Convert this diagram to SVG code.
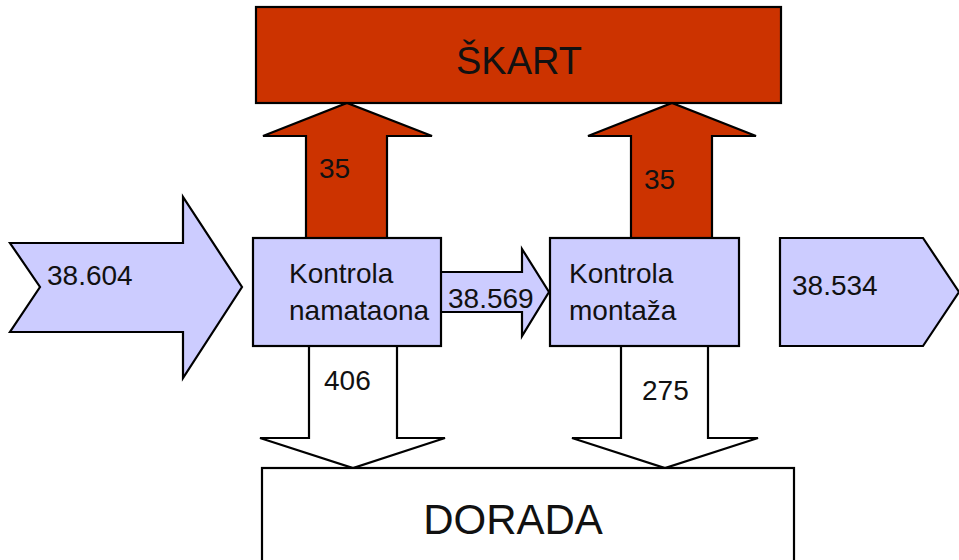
<svg xmlns="http://www.w3.org/2000/svg" width="959" height="560" viewBox="0 0 959 560">
<style>
.lav{fill:#CCCCFF;stroke:#000;stroke-width:2.2;stroke-linejoin:miter}
.red{fill:#CC3300;stroke:#000;stroke-width:2.2;stroke-linejoin:miter}
.wht{fill:#FFFFFF;stroke:#000;stroke-width:2.2;stroke-linejoin:miter}
text{font-family:"Liberation Sans",Arial,sans-serif;fill:#111;font-size:28px}
.big{font-size:40px;text-anchor:middle}
</style>
<g id="connectors">
<path id="in" class="lav" d="M10,243 H183 V197 L242,287 L183,378 V332 H10 L40,287 Z"/>
<path id="up1" class="red" d="M306,238 V136 H263 L347,103 L432,136 H387 V238"/>
<path id="up2" class="red" d="M631,238 V136 H588 L672,103 L756,136 H712 V238"/>
<path id="down1" class="wht" d="M309,347 V438 H260 L353,468 L445,438 H397 V347"/>
<path id="down2" class="wht" d="M621,347 V438 H572 L665,468 L758,438 H708 V347"/>
<path id="mid" class="lav" d="M441,272 H522 V249 L549,292 L522,336 V312 H441"/>
<path id="out" class="lav" d="M780,238 H923 L959,292 L923,346 H780 Z"/>
<text x="47" y="285">38.604</text>
<text x="319" y="178">35</text>
<text x="644" y="189">35</text>
<text x="324" y="390">406</text>
<text x="642" y="400">275</text>
<text x="448" y="308">38.569</text>
<text x="792" y="295">38.534</text>
</g>
<g id="skart">
<rect class="red" x="256" y="7" width="525" height="96"/>
<text class="big" x="519" y="74" font-size="38" style="font-size:38px">ŠKART</text>
</g>
<g id="kontrola1">
<rect class="lav" x="253" y="238" width="188" height="108"/>
<text x="289" y="283">Kontrola</text>
<text x="289" y="320">namataona</text>
</g>
<g id="kontrola2">
<rect class="lav" x="550" y="238" width="189" height="108"/>
<text x="569" y="283">Kontrola</text>
<text x="569" y="320">montaža</text>
</g>
<g id="dorada">
<rect class="wht" x="262" y="468" width="532" height="100"/>
<text class="big" x="513" y="534" style="font-size:42px">DORADA</text>
</g>
</svg>
